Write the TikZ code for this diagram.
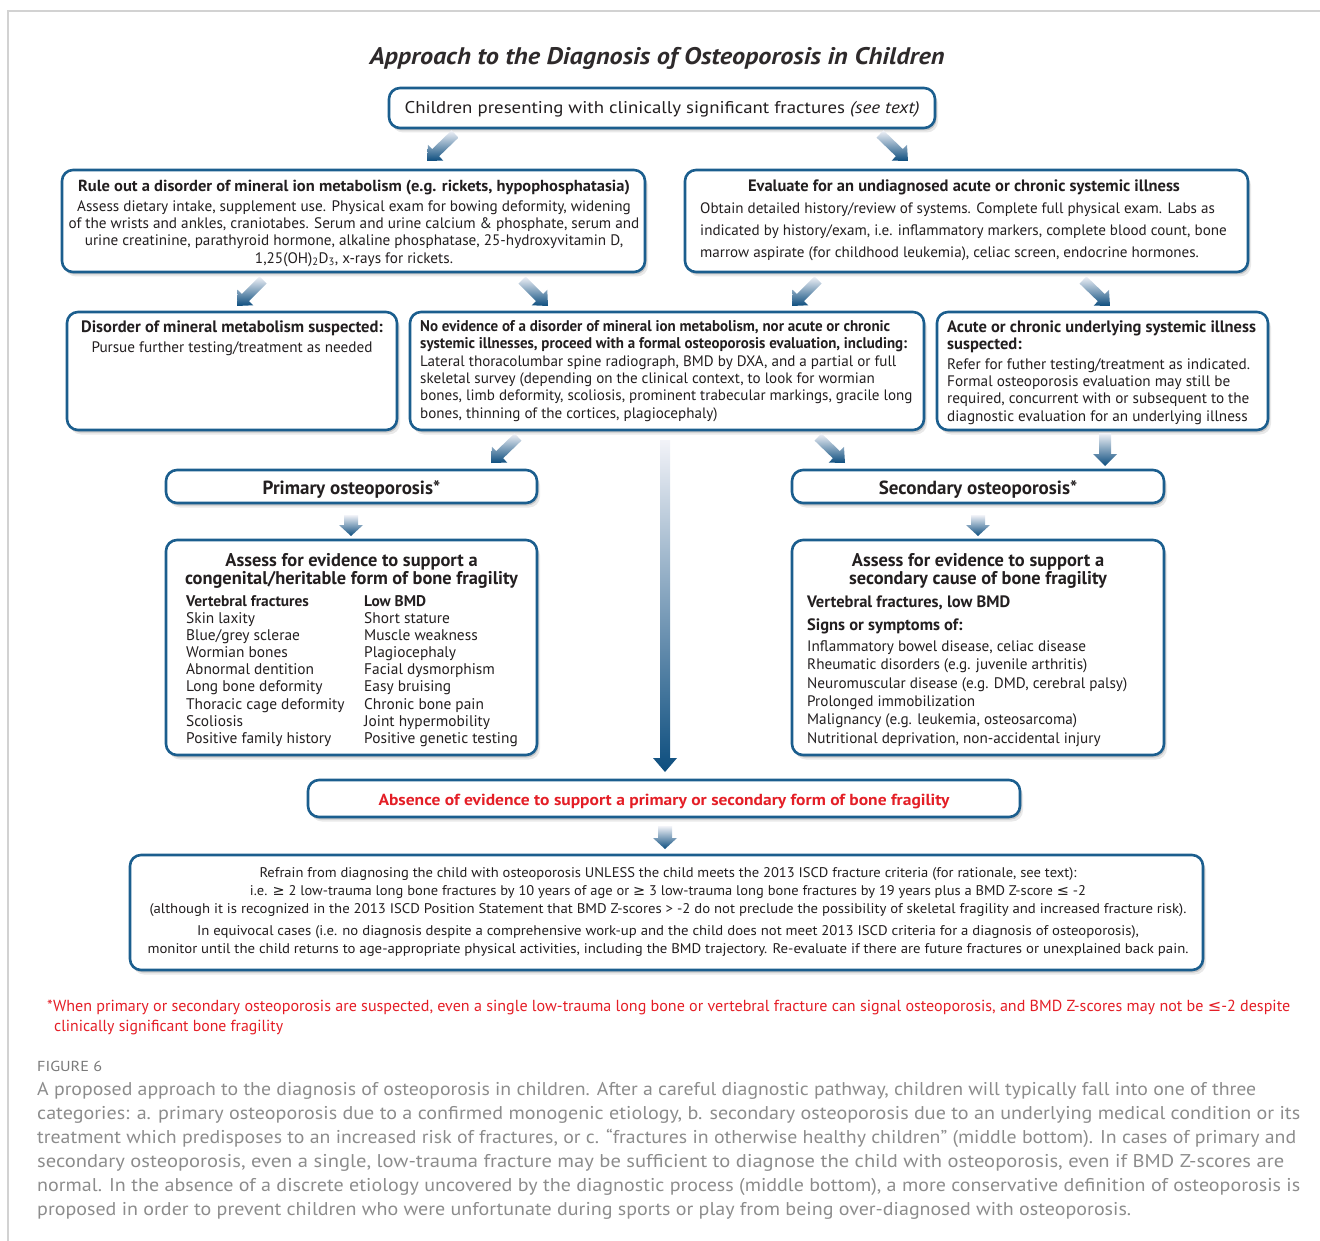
\documentclass[tikz,border=0pt]{standalone}
\usepackage{fontspec}
\usepackage{graphicx}
\setmainfont{PT Sans}
\newfontfamily\symfont{DejaVu Sans}
\usetikzlibrary{calc,shadows}

\definecolor{boxblue}{HTML}{1B5E8E}
\definecolor{arrowdark}{HTML}{0C4D7E}
\definecolor{arrowlight}{HTML}{F2F3F8}
\definecolor{inkdark}{HTML}{231F20}
\definecolor{titleink}{HTML}{2E2A2B}
\definecolor{alertred}{HTML}{E41E26}
\definecolor{capgray}{HTML}{8C8C8C}
\definecolor{figgray}{HTML}{7A7A7A}
\definecolor{framegray}{HTML}{D2D2D2}

% font size helper
\newcommand\fs[2]{\fontsize{#1}{#2}\selectfont}
% set #2 on one line, stretched or squeezed horizontally to width #1 (pt)
\newcommand\fitto[2]{\setbox0=\hbox{#2}\pgfmathsetmacro\fitratio{#1/\the\wd0}\scalebox{\fitratio}[1]{\box0}}
% thick shaded arrow: tail, head, shaft half-width, head half-width, head length
\newcommand\fatarrow[5]{%
  \path ($(#2)!#5!(#1)$) coordinate (neck);
  \shade[top color=arrowlight, bottom color=arrowdark]
    ($(#1)!#3!90:(#2)$) -- ($(neck)!#3!90:(#2)$) -- ($(neck)!#4!90:(#2)$) -- (#2)
    -- ($(neck)!#4!-90:(#2)$) -- ($(neck)!#3!-90:(#2)$) -- ($(#1)!#3!-90:(#2)$) -- cycle;
}

\tikzset{
  box/.style={draw=boxblue, line width=2.6pt, rounded corners=11pt, fill=white, inner sep=0pt,
    drop shadow={shadow xshift=1.5pt, shadow yshift=-2.5pt, opacity=.22, fill=black!70},
    drop shadow={shadow xshift=3pt, shadow yshift=-4.5pt, opacity=.12, fill=black!70}},
  txt/.style={inner sep=0pt, text=inkdark, yshift=-2.5pt},
  bodyc/.style={txt, align=center, font=\fs{15.2}{17.3}},
  bodyl/.style={txt, align=left, font=\fs{15.2}{17.3}, anchor=west},
  head/.style={txt, font=\bfseries\fs{16.5}{17}},
}

\begin{document}
\begin{tikzpicture}[x=1pt, y=-1pt]
\useasboundingbox (0,0) rectangle (1320,1241);

% page frame
\draw[framegray, line width=1.2pt] (8,1241) -- (8,11) -- (1320,11);

% title
\node[txt, text=titleink, font=\bfseries\itshape\fs{24}{28}] (title) at (657,56)
  {\fitto{575}{Approach to the Diagnosis of Osteoporosis in Children}};

% ---------- boxes ----------
\node[box, minimum width=546pt, minimum height=40pt] (start) at (662,108) {};
\node[box, minimum width=583pt, minimum height=102pt] (ruleout) at (353.5,221) {};
\node[box, minimum width=563pt, minimum height=102pt] (evaluate) at (966.5,221) {};
\node[box, minimum width=330pt, minimum height=118pt] (mineral) at (232,371) {};
\node[box, minimum width=514pt, minimum height=118pt] (noevid) at (667,371) {};
\node[box, minimum width=331pt, minimum height=118pt] (systemic) at (1102.5,371) {};
\node[box, minimum width=371pt, minimum height=33pt] (primary) at (351.5,486.5) {};
\node[box, minimum width=372pt, minimum height=33pt] (secondary) at (978,486.5) {};
\node[box, minimum width=371pt, minimum height=215pt] (assessprim) at (351.5,647.5) {};
\node[box, minimum width=372pt, minimum height=215pt] (assesssec) at (978,647.5) {};
\node[box, minimum width=712pt, minimum height=37pt] (absence) at (664,798.5) {};
\node[box, minimum width=1073pt, minimum height=115pt] (refrain) at (666.5,912.5) {};

% ---------- arrows ----------
\coordinate (a1t) at (455,134);  \coordinate (a1h) at (427,161);
\coordinate (a2t) at (880,134);  \coordinate (a2h) at (908,161);
\coordinate (a3t) at (263,280);  \coordinate (a3h) at (237,306);
\coordinate (a4t) at (522,280);  \coordinate (a4h) at (548,306);
\coordinate (a5t) at (818,280);  \coordinate (a5h) at (792,306);
\coordinate (a6t) at (1083,280); \coordinate (a6h) at (1110,306);
\coordinate (a7t) at (518,437);  \coordinate (a7h) at (491,463);
\coordinate (a8t) at (818,437);  \coordinate (a8h) at (845,463);
\coordinate (a9t) at (1105,433); \coordinate (a9h) at (1105,466);
\coordinate (a10t) at (665,440); \coordinate (a10h) at (665,772);
\coordinate (a11t) at (351,515); \coordinate (a11h) at (351,536);
\coordinate (a12t) at (978,515); \coordinate (a12h) at (978,536);
\coordinate (a13t) at (665,826); \coordinate (a13h) at (665,849);

\fatarrow{a1t}{a1h}{5pt}{11pt}{12pt}
\fatarrow{a2t}{a2h}{5pt}{11pt}{12pt}
\fatarrow{a3t}{a3h}{5pt}{11pt}{12pt}
\fatarrow{a4t}{a4h}{5pt}{11pt}{12pt}
\fatarrow{a5t}{a5h}{5pt}{11pt}{12pt}
\fatarrow{a6t}{a6h}{5pt}{11pt}{12pt}
\fatarrow{a7t}{a7h}{5pt}{11pt}{12pt}
\fatarrow{a8t}{a8h}{5pt}{11pt}{12pt}
\fatarrow{a9t}{a9h}{6pt}{12pt}{12pt}
\fatarrow{a10t}{a10h}{5pt}{12pt}{14pt}
\fatarrow{a11t}{a11h}{7pt}{12pt}{11pt}
\fatarrow{a12t}{a12h}{7pt}{12pt}{11pt}
\fatarrow{a13t}{a13h}{7pt}{12pt}{11pt}

% ---------- texts ----------
\node[txt, font=\fs{17}{20}] (startT) at (662,107)
  {\fitto{515}{Children presenting with clinically significant fractures \textit{(see text)}}};

\node[head, font=\bfseries\fs{16}{17}] (ruleoutT) at (354,185)
  {\fitto{552}{Rule out a disorder of mineral ion metabolism (e.g. rickets, hypophosphatasia)}};
\node[bodyc] (ruleoutB) at (354,231)
  {Assess dietary intake, supplement use. Physical exam for bowing deformity, widening\\
   of the wrists and ankles, craniotabes. Serum and urine calcium \& phosphate, serum and\\
   urine creatinine, parathyroid hormone, alkaline phosphatase, 25-hydroxyvitamin D,\\
   1,25(OH)\textsubscript{2}D\textsubscript{3}, x-rays for rickets.};

\node[head] (evaluateT) at (964,185)
  {Evaluate for an undiagnosed acute or chronic systemic illness};
\node[bodyl, font=\fs{15.1}{22}] (evaluateB) at (700,229)
  {Obtain detailed history/review of systems. Complete full physical exam. Labs as\\
   indicated by history/exam, i.e. inflammatory markers, complete blood count, bone\\
   marrow aspirate (for childhood leukemia), celiac screen, endocrine hormones.};

\node[head] (mineralT) at (232,326) {Disorder of mineral metabolism suspected:};
\node[bodyc] (mineralB) at (232,346) {Pursue further testing/treatment as needed};

\node[head, anchor=west, align=left, font=\bfseries\fs{15.5}{17}] (noevidT) at (420,333.5)
  {\fitto{470}{No evidence of a disorder of mineral ion metabolism, nor acute or chronic}\\
   \fitto{487}{systemic illnesses, proceed with a formal osteoporosis evaluation, including:}};
\node[bodyl, font=\fs{15.1}{17.3}] (noevidB) at (420,386)
  {Lateral thoracolumbar spine radiograph, BMD by DXA, and a partial or full\\
   skeletal survey (depending on the clinical context, to look for wormian\\
   bones, limb deformity, scoliosis, prominent trabecular markings, gracile long\\
   bones, thinning of the cortices, plagiocephaly)};

\node[head, anchor=west, align=left, font=\bfseries\fs{16.5}{17}] (systemicT) at (947,334.5)
  {Acute or chronic underlying systemic illness\\ suspected:};
\node[bodyl] (systemicB) at (947,389)
  {Refer for futher testing/treatment as indicated.\\
   Formal osteoporosis evaluation may still be\\
   required, concurrent with or subsequent to the\\
   diagnostic evaluation for an underlying illness};

\node[head, font=\bfseries\fs{19}{20}] (primaryT) at (351.5,487) {Primary osteoporosis*};
\node[head, font=\bfseries\fs{19}{20}] (secondaryT) at (978,487) {Secondary osteoporosis*};

\node[head, align=center, font=\bfseries\fs{18.4}{18}] (assessprimT) at (351.5,568)
  {Assess for evidence to support a\\ congenital/heritable form of bone fragility};
\node[bodyl, font=\fs{15.4}{17.1}] (assessprimL) at (186,668.5)
  {\textbf{Vertebral fractures}\\ Skin laxity\\ Blue/grey sclerae\\ Wormian bones\\
   Abnormal dentition\\ Long bone deformity\\ Thoracic cage deformity\\ Scoliosis\\
   Positive family history};
\node[bodyl, font=\fs{15.4}{17.1}] (assessprimR) at (364,668.5)
  {\textbf{Low BMD}\\ Short stature\\ Muscle weakness\\ Plagiocephaly\\ Facial dysmorphism\\
   Easy bruising\\ Chronic bone pain\\ Joint hypermobility\\ Positive genetic testing};

\node[head, align=center, font=\bfseries\fs{18.4}{18}] (assesssecT) at (978,568)
  {Assess for evidence to support a\\ secondary cause of bone fragility};
\node[head, anchor=west] (assesssecV) at (807,600) {Vertebral fractures, low BMD};
\node[head, anchor=west] (assesssecS) at (807,624) {Signs or symptoms of:};
\node[bodyl, font=\fs{15.2}{18.4}] (assesssecB) at (807,691)
  {Inflammatory bowel disease, celiac disease\\
   Rheumatic disorders (e.g. juvenile arthritis)\\
   Neuromuscular disease (e.g. DMD, cerebral palsy)\\
   Prolonged immobilization\\
   Malignancy (e.g. leukemia, osteosarcoma)\\
   Nutritional deprivation, non-accidental injury};

\node[txt, text=alertred, font=\bfseries\fs{16}{18}] (absenceT) at (664,799)
  {\fitto{571}{Absence of evidence to support a primary or secondary form of bone fragility}};

\node[txt, align=center, font=\fs{14}{18}] (refrainA) at (668,890)
  {\fitto{817}{Refrain from diagnosing the child with osteoporosis UNLESS the child meets the 2013 ISCD fracture criteria (for rationale, see text):}\\
   \fitto{836}{i.e. {\symfont ≥} 2 low-trauma long bone fractures by 10 years of age or {\symfont ≥} 3 low-trauma long bone fractures by 19 years plus a BMD Z-score {\symfont ≤} -2}\\
   \fitto{1037}{(although it is recognized in the 2013 ISCD Position Statement that BMD Z-scores > -2 do not preclude the possibility of skeletal fragility and increased fracture risk).}};
\node[txt, align=center, font=\fs{14}{18}] (refrainB) at (668,938)
  {\fitto{942}{In equivocal cases (i.e. no diagnosis despite a comprehensive work-up and the child does not meet 2013 ISCD criteria for a diagnosis of osteoporosis),}\\
   \fitto{1041}{monitor until the child returns to age-appropriate physical activities, including the BMD trajectory. Re-evaluate if there are future fractures or unexplained back pain.}};

% footnote
\node[txt, text=alertred, anchor=west, font=\fs{16}{20}] (noteA) at (47,1005)
  {\fitto{1243}{*When primary or secondary osteoporosis are suspected, even a single low-trauma long bone or vertebral fracture can signal osteoporosis, and BMD Z-scores may not be {\symfont ≤}-2 despite}};
\node[txt, text=alertred, anchor=west, font=\fs{16}{20}] (noteB) at (54,1025)
  {\fitto{229}{clinically significant bone fragility}};

% caption
\node[txt, text=figgray, anchor=west, font=\fs{14.5}{17}] (figlabel) at (37,1064) {\fitto{65}{FIGURE 6}};
\node[txt, text=capgray, anchor=west, font=\fs{18.5}{24}] (cap1) at (37,1088)
  {\fitto{1219}{A proposed approach to the diagnosis of osteoporosis in children. After a careful diagnostic pathway, children will typically fall into one of three}};
\node[txt, text=capgray, anchor=west, font=\fs{18.5}{24}] (cap2) at (37,1112)
  {\fitto{1263}{categories: a. primary osteoporosis due to a confirmed monogenic etiology, b. secondary osteoporosis due to an underlying medical condition or its}};
\node[txt, text=capgray, anchor=west, font=\fs{18.5}{24}] (cap3) at (37,1136)
  {\fitto{1259}{treatment which predisposes to an increased risk of fractures, or c. “fractures in otherwise healthy children” (middle bottom). In cases of primary and}};
\node[txt, text=capgray, anchor=west, font=\fs{18.5}{24}] (cap4) at (37,1160)
  {\fitto{1247}{secondary osteoporosis, even a single, low-trauma fracture may be sufficient to diagnose the child with osteoporosis, even if BMD Z-scores are}};
\node[txt, text=capgray, anchor=west, font=\fs{18.5}{24}] (cap5) at (37,1184)
  {\fitto{1263}{normal. In the absence of a discrete etiology uncovered by the diagnostic process (middle bottom), a more conservative definition of osteoporosis is}};
\node[txt, text=capgray, anchor=west, font=\fs{18.5}{24}] (cap6) at (37,1208)
  {\fitto{1094}{proposed in order to prevent children who were unfortunate during sports or play from being over-diagnosed with osteoporosis.}};
\end{tikzpicture}
\end{document}
